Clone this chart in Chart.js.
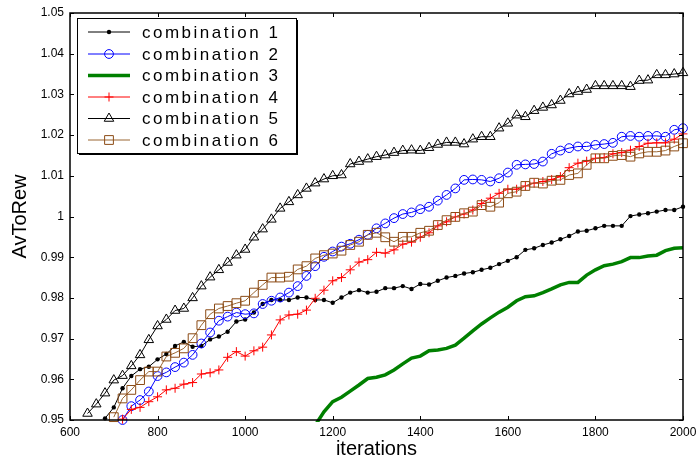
<!DOCTYPE html>
<html>
<head>
<meta charset="utf-8">
<script src="https://cdn.jsdelivr.net/npm/chart.js@4/dist/chart.umd.min.js"></script>
<style>
  html, body { margin: 0; padding: 0; background: #fff; }
  #wrap { width: 696px; height: 464px; }
</style>
</head>
<body>
<div id="wrap"><canvas id="chart" width="696" height="464"></canvas></div>
<script>
'use strict';

// x values shared by every run (one sample every 20 iterations)
var iterations = [600, 620, 640, 660, 680, 700, 720, 740, 760, 780,
  800, 820, 840, 860, 880, 900, 920, 940, 960, 980,
  1000, 1020, 1040, 1060, 1080, 1100, 1120, 1140, 1160, 1180,
  1200, 1220, 1240, 1260, 1280, 1300, 1320, 1340, 1360, 1380,
  1400, 1420, 1440, 1460, 1480, 1500, 1520, 1540, 1560, 1580,
  1600, 1620, 1640, 1660, 1680, 1700, 1720, 1740, 1760, 1780,
  1800, 1820, 1840, 1860, 1880, 1900, 1920, 1940, 1960, 1980, 2000];

var seriesNames = ['combination 1', 'combination 2', 'combination 3',
  'combination 4', 'combination 5', 'combination 6'];

// every series ends at 2000, values listed from its first sample on
var comb1 = [0.9504, 0.9531, 0.9578, 0.9608, 0.9625, 0.9631, 0.9649, 0.9662, 0.9682, 0.9692,
  0.9680, 0.9682, 0.9698, 0.9705, 0.9717, 0.9742, 0.9747, 0.9764, 0.9785, 0.9795,
  0.9795, 0.9795, 0.9801, 0.9801, 0.9795, 0.9795, 0.9788, 0.9801, 0.9813, 0.9819,
  0.9813, 0.9815, 0.9824, 0.9824, 0.9829, 0.9822, 0.9834, 0.9833, 0.9842, 0.9850,
  0.9854, 0.9860, 0.9863, 0.9869, 0.9874, 0.9883, 0.9891, 0.9900, 0.9918, 0.9922,
  0.9930, 0.9936, 0.9944, 0.9952, 0.9963, 0.9965, 0.9971, 0.9977, 0.9977, 0.9977,
  1.0001, 1.0005, 1.0008, 1.0012, 1.0016, 1.0016, 1.0024];

var comb2 = [0.9500, 0.9534, 0.9549, 0.9570, 0.9608, 0.9617, 0.9630, 0.9641, 0.9660, 0.9688,
  0.9715, 0.9744, 0.9754, 0.9764, 0.9760, 0.9762, 0.9785, 0.9793, 0.9801, 0.9813,
  0.9829, 0.9854, 0.9878, 0.9901, 0.9914, 0.9926, 0.9933, 0.9943, 0.9955, 0.9971,
  0.9983, 0.9996, 1.0006, 1.0010, 1.0018, 1.0024, 1.0039, 1.0053, 1.0069, 1.0090,
  1.0091, 1.0090, 1.0086, 1.0094, 1.0108, 1.0127, 1.0128, 1.0129, 1.0135, 1.0154,
  1.0162, 1.0168, 1.0172, 1.0172, 1.0176, 1.0178, 1.0181, 1.0196, 1.0198, 1.0196,
  1.0198, 1.0198, 1.0196, 1.0213, 1.0217];

var comb3 = [0.9487, 0.9520, 0.9545, 0.9556, 0.9571, 0.9586, 0.9602, 0.9605, 0.9611, 0.9623,
  0.9638, 0.9652, 0.9657, 0.9670, 0.9672, 0.9676, 0.9684, 0.9701, 0.9719, 0.9736,
  0.9751, 0.9765, 0.9777, 0.9793, 0.9803, 0.9805, 0.9813, 0.9822, 0.9832, 0.9838,
  0.9838, 0.9856, 0.9869, 0.9879, 0.9883, 0.9889, 0.9899, 0.9899, 0.9903, 0.9905,
  0.9916, 0.9922, 0.9923];

var comb4 = [0.9502, 0.9526, 0.9531, 0.9545, 0.9557, 0.9574, 0.9578, 0.9588, 0.9592, 0.9613,
  0.9616, 0.9623, 0.9654, 0.9668, 0.9657, 0.9670, 0.9679, 0.9709, 0.9746, 0.9758,
  0.9760, 0.9770, 0.9799, 0.9819, 0.9842, 0.9850, 0.9869, 0.9888, 0.9894, 0.9912,
  0.9910, 0.9918, 0.9932, 0.9937, 0.9949, 0.9960, 0.9977, 0.9987, 0.9999, 1.0006,
  1.0016, 1.0032, 1.0045, 1.0057, 1.0067, 1.0067, 1.0075, 1.0082, 1.0086, 1.0091,
  1.0098, 1.0120, 1.0131, 1.0136, 1.0143, 1.0145, 1.0154, 1.0157, 1.0163, 1.0172,
  1.0180, 1.0181, 1.0181, 1.0190, 1.0203];

var comb5 = [0.9516, 0.9539, 0.9566, 0.9598, 0.9609, 0.9633, 0.9660, 0.9697, 0.9731, 0.9747,
  0.9769, 0.9774, 0.9800, 0.9829, 0.9851, 0.9869, 0.9887, 0.9905, 0.9919, 0.9949,
  0.9969, 0.9993, 1.0020, 1.0036, 1.0053, 1.0069, 1.0082, 1.0092, 1.0100, 1.0102,
  1.0129, 1.0135, 1.0141, 1.0147, 1.0151, 1.0157, 1.0162, 1.0163, 1.0162, 1.0169,
  1.0177, 1.0182, 1.0182, 1.0178, 1.0190, 1.0196, 1.0196, 1.0217, 1.0229, 1.0249,
  1.0245, 1.0260, 1.0268, 1.0274, 1.0285, 1.0301, 1.0307, 1.0312, 1.0321, 1.0321,
  1.0321, 1.0321, 1.0319, 1.0334, 1.0335, 1.0348, 1.0348, 1.0350, 1.0353];

var comb6 = [0.9507, 0.9553, 0.9574, 0.9598, 0.9619, 0.9619, 0.9656, 0.9665, 0.9676, 0.9701,
  0.9733, 0.9760, 0.9774, 0.9780, 0.9787, 0.9793, 0.9813, 0.9832, 0.9850, 0.9850,
  0.9852, 0.9870, 0.9878, 0.9897, 0.9905, 0.9909, 0.9916, 0.9930, 0.9938, 0.9955,
  0.9960, 0.9949, 0.9938, 0.9950, 0.9950, 0.9960, 0.9965, 0.9979, 0.9991, 0.9999,
  1.0008, 1.0012, 1.0028, 1.0024, 1.0034, 1.0057, 1.0061, 1.0075, 1.0083, 1.0081,
  1.0088, 1.0090, 1.0102, 1.0106, 1.0127, 1.0143, 1.0143, 1.0149, 1.0151, 1.0147,
  1.0155, 1.0159, 1.0159, 1.0162, 1.0172, 1.0180];

var xTickValues = [600, 800, 1000, 1200, 1400, 1600, 1800, 2000];
var xTickLabels = ['600', '800', '1000', '1200', '1400', '1600', '1800', '2000'];
var yTickValues = [0.95, 0.96, 0.97, 0.98, 0.99, 1, 1.01, 1.02, 1.03, 1.04, 1.05];
var yTickLabels = ['0.95', '0.96', '0.97', '0.98', '0.99', '1', '1.01', '1.02', '1.03', '1.04', '1.05'];

var FONT = "'Liberation Sans', Arial, sans-serif";

function toPoints(values) {
    var offset = iterations.length - values.length;
    return iterations.map(function(it, i) {
        var v = i - offset >= 0 ? values[i - offset] : null;
        return { x: it, y: v };
    });
}

function lineSet(label, values, style) {
    return Object.assign({
        label: label,
        data: toPoints(values),
        borderWidth: 1,
        tension: 0,
        spanGaps: false,
        clip: false,
        pointBorderWidth: 1,
        pointBackgroundColor: 'rgba(0,0,0,0)'
    }, style);
}

var datasets = [
    lineSet(seriesNames[0], comb1, {
        borderColor: '#000', pointBorderColor: '#000', pointBackgroundColor: '#000',
        pointStyle: 'circle', pointRadius: 2.2, pointBorderWidth: 0, order: 6
    }),
    lineSet(seriesNames[1], comb2, {
        borderColor: '#0000ff', pointBorderColor: '#0000ff',
        pointStyle: 'circle', pointRadius: 4.4, order: 5
    }),
    lineSet(seriesNames[2], comb3, {
        borderColor: '#008000', borderWidth: 3.5, pointRadius: 0,
        clip: 2, order: 4
    }),
    lineSet(seriesNames[3], comb4, {
        borderColor: '#ff0000', pointBorderColor: '#ff0000',
        pointStyle: 'cross', pointRadius: 4.5, order: 3
    }),
    lineSet(seriesNames[4], comb5, {
        borderColor: '#000', pointBorderColor: '#000',
        pointStyle: 'triangle', pointRadius: 5.5, order: 2
    }),
    lineSet(seriesNames[5], comb6, {
        borderColor: '#9a6633', pointBorderColor: '#8b4a14',
        pointStyle: 'rect', pointRadius: 6.2, order: 1
    })
];

// box round the plot with ticks pointing inward
var framePlugin = {
    id: 'frame',
    afterDraw: function(chart) {
        var ctx = chart.ctx;
        var a = chart.chartArea;
        var xs = chart.scales.x, ys = chart.scales.y;
        var tl = 4;
        ctx.save();
        ctx.strokeStyle = '#000';
        ctx.lineWidth = 1.5;
        ctx.strokeRect(a.left, a.top, a.right - a.left, a.bottom - a.top);
        ctx.lineWidth = 1;
        ctx.beginPath();
        xTickValues.forEach(function(v) {
            var px = Math.round(xs.getPixelForValue(v)) + 0.5;
            ctx.moveTo(px, a.bottom); ctx.lineTo(px, a.bottom - tl);
            ctx.moveTo(px, a.top); ctx.lineTo(px, a.top + tl);
        });
        yTickValues.forEach(function(v) {
            var py = Math.round(ys.getPixelForValue(v)) + 0.5;
            ctx.moveTo(a.left, py); ctx.lineTo(a.left + tl, py);
            ctx.moveTo(a.right, py); ctx.lineTo(a.right - tl, py);
        });
        ctx.stroke();
        ctx.restore();
    }
};

// legend drawn inside the plot, upper left
var boxLegend = {
    id: 'boxLegend',
    afterDraw: function(chart) {
        var ctx = chart.ctx;
        var bx = 77.5, by = 18.5, bw = 219, bh = 135;
        var rowY = [32, 54, 75.5, 97, 118.5, 140];
        ctx.save();
        ctx.fillStyle = '#000';
        ctx.fillRect(bx + 1.5, by + 1.5, bw, bh);
        ctx.fillStyle = '#fff';
        ctx.fillRect(bx, by, bw, bh);
        ctx.strokeStyle = '#000';
        ctx.lineWidth = 1;
        ctx.strokeRect(bx, by, bw, bh);

        chart.data.datasets.forEach(function(ds, i) {
            var y = rowY[i];
            ctx.strokeStyle = ds.borderColor;
            ctx.lineWidth = ds.borderWidth;
            ctx.beginPath();
            ctx.moveTo(88, y);
            ctx.lineTo(130, y);
            ctx.stroke();
            if (ds.pointRadius > 0) {
                ctx.strokeStyle = ds.pointBorderColor;
                ctx.fillStyle = ds.pointBackgroundColor;
                ctx.lineWidth = ds.pointBorderWidth;
                Chart.helpers.drawPoint(ctx, {
                    pointStyle: ds.pointStyle,
                    radius: ds.pointRadius,
                    borderWidth: ds.pointBorderWidth,
                    rotation: 0
                }, 109, y);
            }
            ctx.fillStyle = '#000';
            ctx.font = '17px ' + FONT;
            ctx.letterSpacing = '2.5px';
            ctx.textBaseline = 'middle';
            ctx.textAlign = 'left';
            ctx.fillText(ds.label, 142, y + 1);
        });
        ctx.restore();
    }
};

new Chart(document.getElementById('chart'), {
    type: 'line',
    data: { datasets: datasets },
    plugins: [framePlugin, boxLegend],
    options: {
        responsive: false,
        animation: false,
        events: [],
        layout: { autoPadding: false, padding: { top: 13, right: 13, left: 0, bottom: 0 } },
        plugins: { legend: { display: false }, tooltip: { enabled: false } },
        scales: {
            x: {
                type: 'linear',
                min: 600,
                max: 2000,
                afterFit: function(s) {
                    s.height = 44;
                    s.paddingLeft = 0;
                    s.paddingRight = 0;
                },
                afterBuildTicks: function(s) {
                    s.ticks = xTickValues.map(function(v) { return { value: v }; });
                },
                grid: { display: false, drawTicks: false },
                border: { display: false },
                ticks: {
                    padding: 5,
                    color: '#000',
                    font: { family: FONT, size: 12 },
                    maxRotation: 0,
                    callback: function(v) {
                        var k = xTickValues.indexOf(v);
                        return k >= 0 ? xTickLabels[k] : '';
                    }
                },
                title: {
                    display: true,
                    text: 'iterations',
                    color: '#000',
                    font: { family: FONT, size: 20 },
                    padding: { top: 0, bottom: 3 }
                }
            },
            y: {
                type: 'linear',
                min: 0.95,
                max: 1.05,
                afterFit: function(s) {
                    s.width = 70;
                    s.paddingTop = 0;
                    s.paddingBottom = 0;
                },
                afterBuildTicks: function(s) {
                    s.ticks = yTickValues.map(function(v) { return { value: v }; });
                },
                grid: { display: false, drawTicks: false },
                border: { display: false },
                ticks: {
                    padding: 6,
                    color: '#000',
                    font: { family: FONT, size: 12 },
                    callback: function(v) {
                        var k = yTickValues.indexOf(v);
                        return k >= 0 ? yTickLabels[k] : '';
                    }
                },
                title: {
                    display: true,
                    text: 'AvToRew',
                    color: '#000',
                    font: { family: FONT, size: 20 },
                    padding: { top: 8, bottom: 0 }
                }
            }
        }
    }
});
</script>
</body>
</html>
